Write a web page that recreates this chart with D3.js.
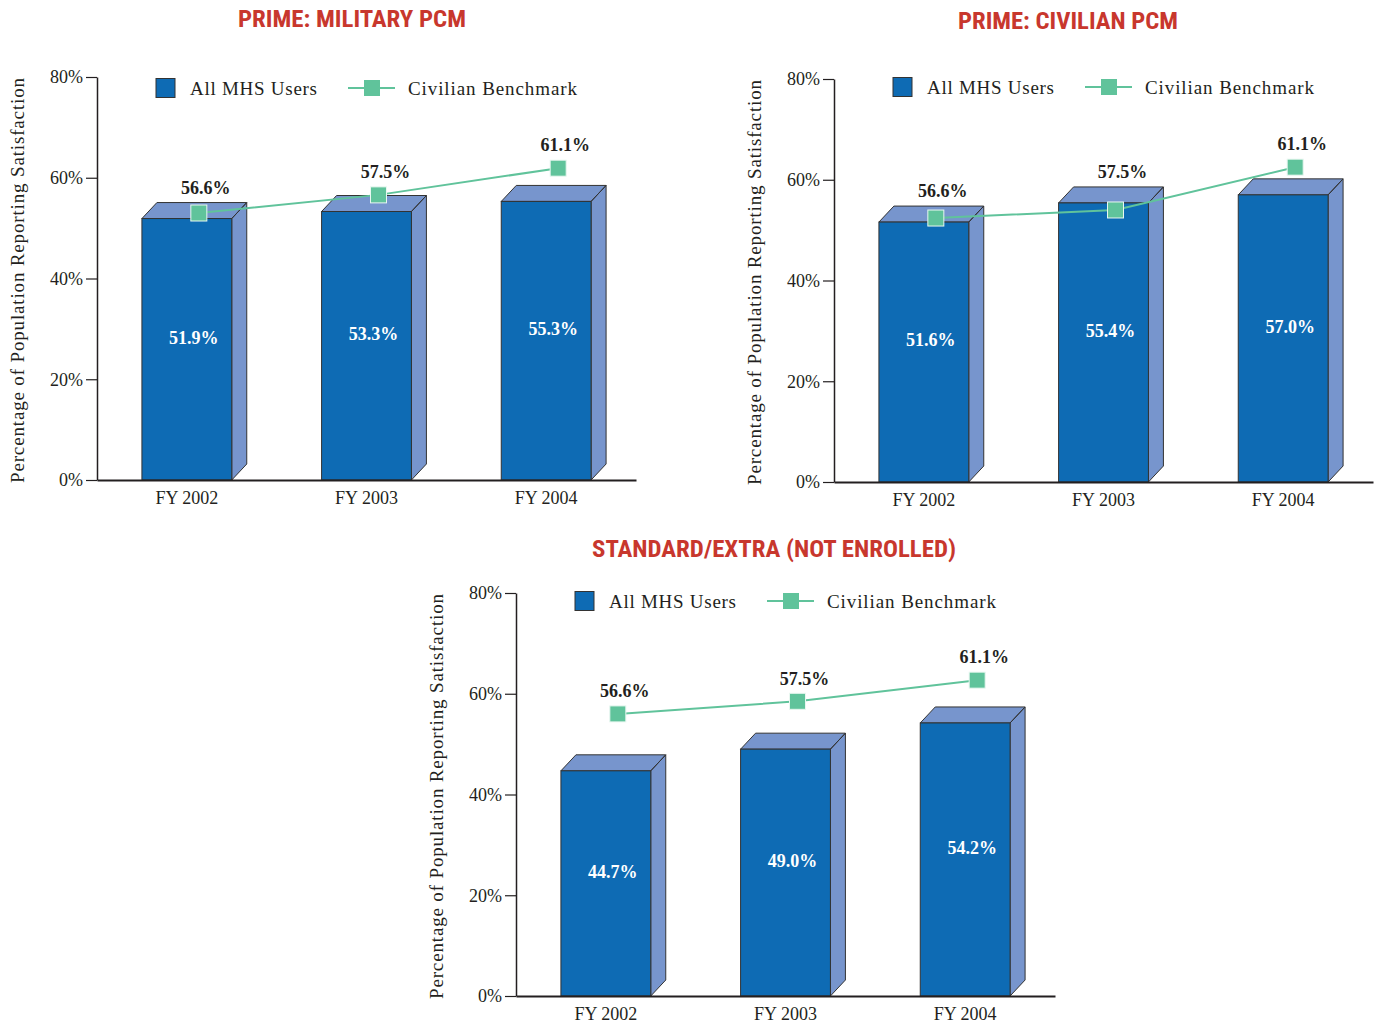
<!DOCTYPE html>
<html lang="en">
<head>
<meta charset="UTF-8">
<title>MHS satisfaction</title>
<script src="https://cdn.jsdelivr.net/npm/d3@7"></script>
<style>
    body { margin: 0; background: #fff; }
    svg text { fill: #231f20; }
    .title { font-family: "Liberation Sans Narrow", "Roboto Condensed", "Arial Narrow", sans-serif; font-weight: bold; font-size: 24px; }
    .serif { font-family: "Liberation Serif", "DejaVu Serif", serif; }
    .axis path, .axis line { stroke: #231f20; }
</style>
</head>
<body>
<svg id="main" width="1377" height="1023"></svg>
<script>

    // categories and values
    var years = ["FY 2002", "FY 2003", "FY 2004"];
    var yTicks = [0, 20, 40, 60, 80];

    var titles = ["PRIME: MILITARY PCM", "PRIME: CIVILIAN PCM", "STANDARD/EXTRA (NOT ENROLLED)"];

    // All MHS Users (bars)
    var mhsMilitary = [51.9, 53.3, 55.3];
    var mhsCivilian = [51.6, 55.4, 57.0];
    var mhsStandard = [44.7, 49.0, 54.2];

    // Civilian Benchmark: printed values
    var benchmarkLabels = [56.6, 57.5, 61.1];

    // Civilian Benchmark: heights where the markers are drawn in the picture
    var benchMilitary = [53.0, 56.6, 61.9];
    var benchCivilian = [52.4, 54.0, 62.5];
    var benchStandard = [56.0, 58.5, 62.7];

    var barFront = "#0e6bb4",
        barShade = "#7795cd",
        green = "#60c39b";

    var svg = d3.select("#main");

    // each panel: left = y axis x, top = 80% line
    var panels = [
        {title: titles[0], titleW: 228, bars: mhsMilitary, bench: benchMilitary, left: 97, top: 77, titleX: 352, titleY: 27, legY: 11},
        {title: titles[1], titleW: 220, bars: mhsCivilian, bench: benchCivilian, left: 834, top: 79, titleX: 1068, titleY: 29, legY: 8},
        {title: titles[2], titleW: 364, bars: mhsStandard, bench: benchStandard, left: 516, top: 593, titleX: 774, titleY: 557, legY: 8}
    ];

    var plotW = 539, plotH = 403, dx = 15, dy = 16;

    panels.forEach(function(p) {

        svg.append("text")
            .attr("class", "title")
            .attr("x", p.titleX)
            .attr("y", p.titleY)
            .attr("text-anchor", "middle")
            .attr("textLength", p.titleW)
            .attr("lengthAdjust", "spacingAndGlyphs")
            .style("fill", "#c8372d")
            .text(p.title);

        var g = svg.append("g").attr("transform", "translate(" + p.left + "," + p.top + ")");

        var x = d3.scaleBand()
            .domain(years)
            .range([0, plotW])
            .paddingInner(0.5)
            .paddingOuter(0.25);

        var y = d3.scaleLinear()
            .domain([0, 80])
            .range([plotH, 0]);

        // y axis
        var yAxis = g.append("g")
            .attr("class", "axis serif")
            .call(d3.axisLeft(y).tickValues(yTicks).tickSize(11).tickSizeOuter(0).tickPadding(3)
                .tickFormat(function(d) { return d + "%"; }));
        yAxis.select(".domain").attr("stroke-width", 1.5);
        yAxis.selectAll(".tick line").attr("stroke-width", 1.2);
        yAxis.selectAll("text").style("font-size", "18px").style("fill", "#231f20");

        g.append("text")
            .attr("class", "serif")
            .attr("transform", "translate(-80," + (plotH / 2 + 2) + ") rotate(-90)")
            .attr("text-anchor", "middle")
            .attr("dy", "0.35em")
            .attr("textLength", 405)
            .style("font-size", "19px")
            .text("Percentage of Population Reporting Satisfaction");

        // 3D bars
        var bar = g.selectAll(".bar")
            .data(p.bars)
            .enter().append("g")
            .attr("class", "bar");

        bar.append("path")
            .attr("fill", barShade)
            .attr("stroke", "#333")
            .attr("stroke-width", 1)
            .attr("d", function(d, i) {
                var x0 = x(years[i]), x1 = x0 + x.bandwidth(), yt = y(d), yb = y(0);
                return "M" + x0 + "," + yt + "L" + (x0 + dx) + "," + (yt - dy) + "L" + (x1 + dx) + "," + (yt - dy) +
                    "L" + x1 + "," + yt + "Z" +
                    "M" + x1 + "," + yt + "L" + (x1 + dx) + "," + (yt - dy) + "L" + (x1 + dx) + "," + (yb - dy) +
                    "L" + x1 + "," + yb + "Z";
            });

        bar.append("rect")
            .attr("x", function(d, i) { return x(years[i]); })
            .attr("y", function(d) { return y(d); })
            .attr("width", x.bandwidth())
            .attr("height", function(d) { return y(0) - y(d); })
            .attr("fill", barFront)
            .attr("stroke", "#333")
            .attr("stroke-width", 1);

        bar.append("text")
            .attr("class", "serif")
            .attr("x", function(d, i) { return x(years[i]) + x.bandwidth() / 2 + 7; })
            .attr("y", function(d) { return (y(d) - dy + y(0)) / 2 - 4; })
            .attr("dy", "0.35em")
            .attr("text-anchor", "middle")
            .style("font-size", "18px")
            .style("font-weight", "bold")
            .style("fill", "#fff")
            .text(function(d) { return d.toFixed(1) + "%"; });

        // x axis
        var xAxis = g.append("g")
            .attr("class", "axis serif")
            .attr("transform", "translate(0," + plotH + ")")
            .call(d3.axisBottom(x).tickSize(0).tickSizeOuter(0).tickPadding(11));
        xAxis.select(".domain").attr("stroke-width", 2);
        xAxis.selectAll("text").style("font-size", "18px").style("fill", "#231f20");

        // benchmark line
        var cx = function(i) { return x(years[i]) + x.bandwidth() / 2 + 12; };

        g.append("path")
            .datum(p.bench)
            .attr("fill", "none")
            .attr("stroke", green)
            .attr("stroke-width", 2)
            .attr("d", d3.line()
                .x(function(d, i) { return cx(i); })
                .y(function(d) { return y(d); }));

        g.selectAll(".mark")
            .data(p.bench)
            .enter().append("rect")
            .attr("class", "mark")
            .attr("x", function(d, i) { return cx(i) - 8; })
            .attr("y", function(d) { return y(d) - 8; })
            .attr("width", 16)
            .attr("height", 16)
            .attr("fill", green)
            .attr("stroke", "#e8f7f0")
            .attr("stroke-width", 1);

        g.selectAll(".benchLabel")
            .data(p.bench)
            .enter().append("text")
            .attr("class", "serif")
            .attr("x", function(d, i) { return x(years[i]) + x.bandwidth() / 2 + 19; })
            .attr("y", function(d, i) { return Math.min(y(d) - 8, y(p.bars[i]) - dy) - 15; })
            .attr("dy", "0.35em")
            .attr("text-anchor", "middle")
            .style("font-size", "18px")
            .style("font-weight", "bold")
            .text(function(d, i) { return benchmarkLabels[i].toFixed(1) + "%"; });

        // legend
        var lg = g.append("g").attr("transform", "translate(0," + p.legY + ")");
        lg.append("rect")
            .attr("x", 59).attr("y", -9.5)
            .attr("width", 19).attr("height", 19)
            .attr("fill", barFront).attr("stroke", "#333").attr("stroke-width", 1);
        lg.append("text")
            .attr("class", "serif")
            .attr("x", 93).attr("dy", "0.35em")
            .attr("textLength", 127)
            .style("font-size", "19px")
            .text("All MHS Users");
        lg.append("line")
            .attr("x1", 251).attr("x2", 298)
            .attr("stroke", green).attr("stroke-width", 2);
        lg.append("rect")
            .attr("x", 267).attr("y", -8)
            .attr("width", 16).attr("height", 16)
            .attr("fill", green);
        lg.append("text")
            .attr("class", "serif")
            .attr("x", 311).attr("dy", "0.35em")
            .attr("textLength", 169)
            .style("font-size", "19px")
            .text("Civilian Benchmark");
    });

</script>
</body>
</html>
